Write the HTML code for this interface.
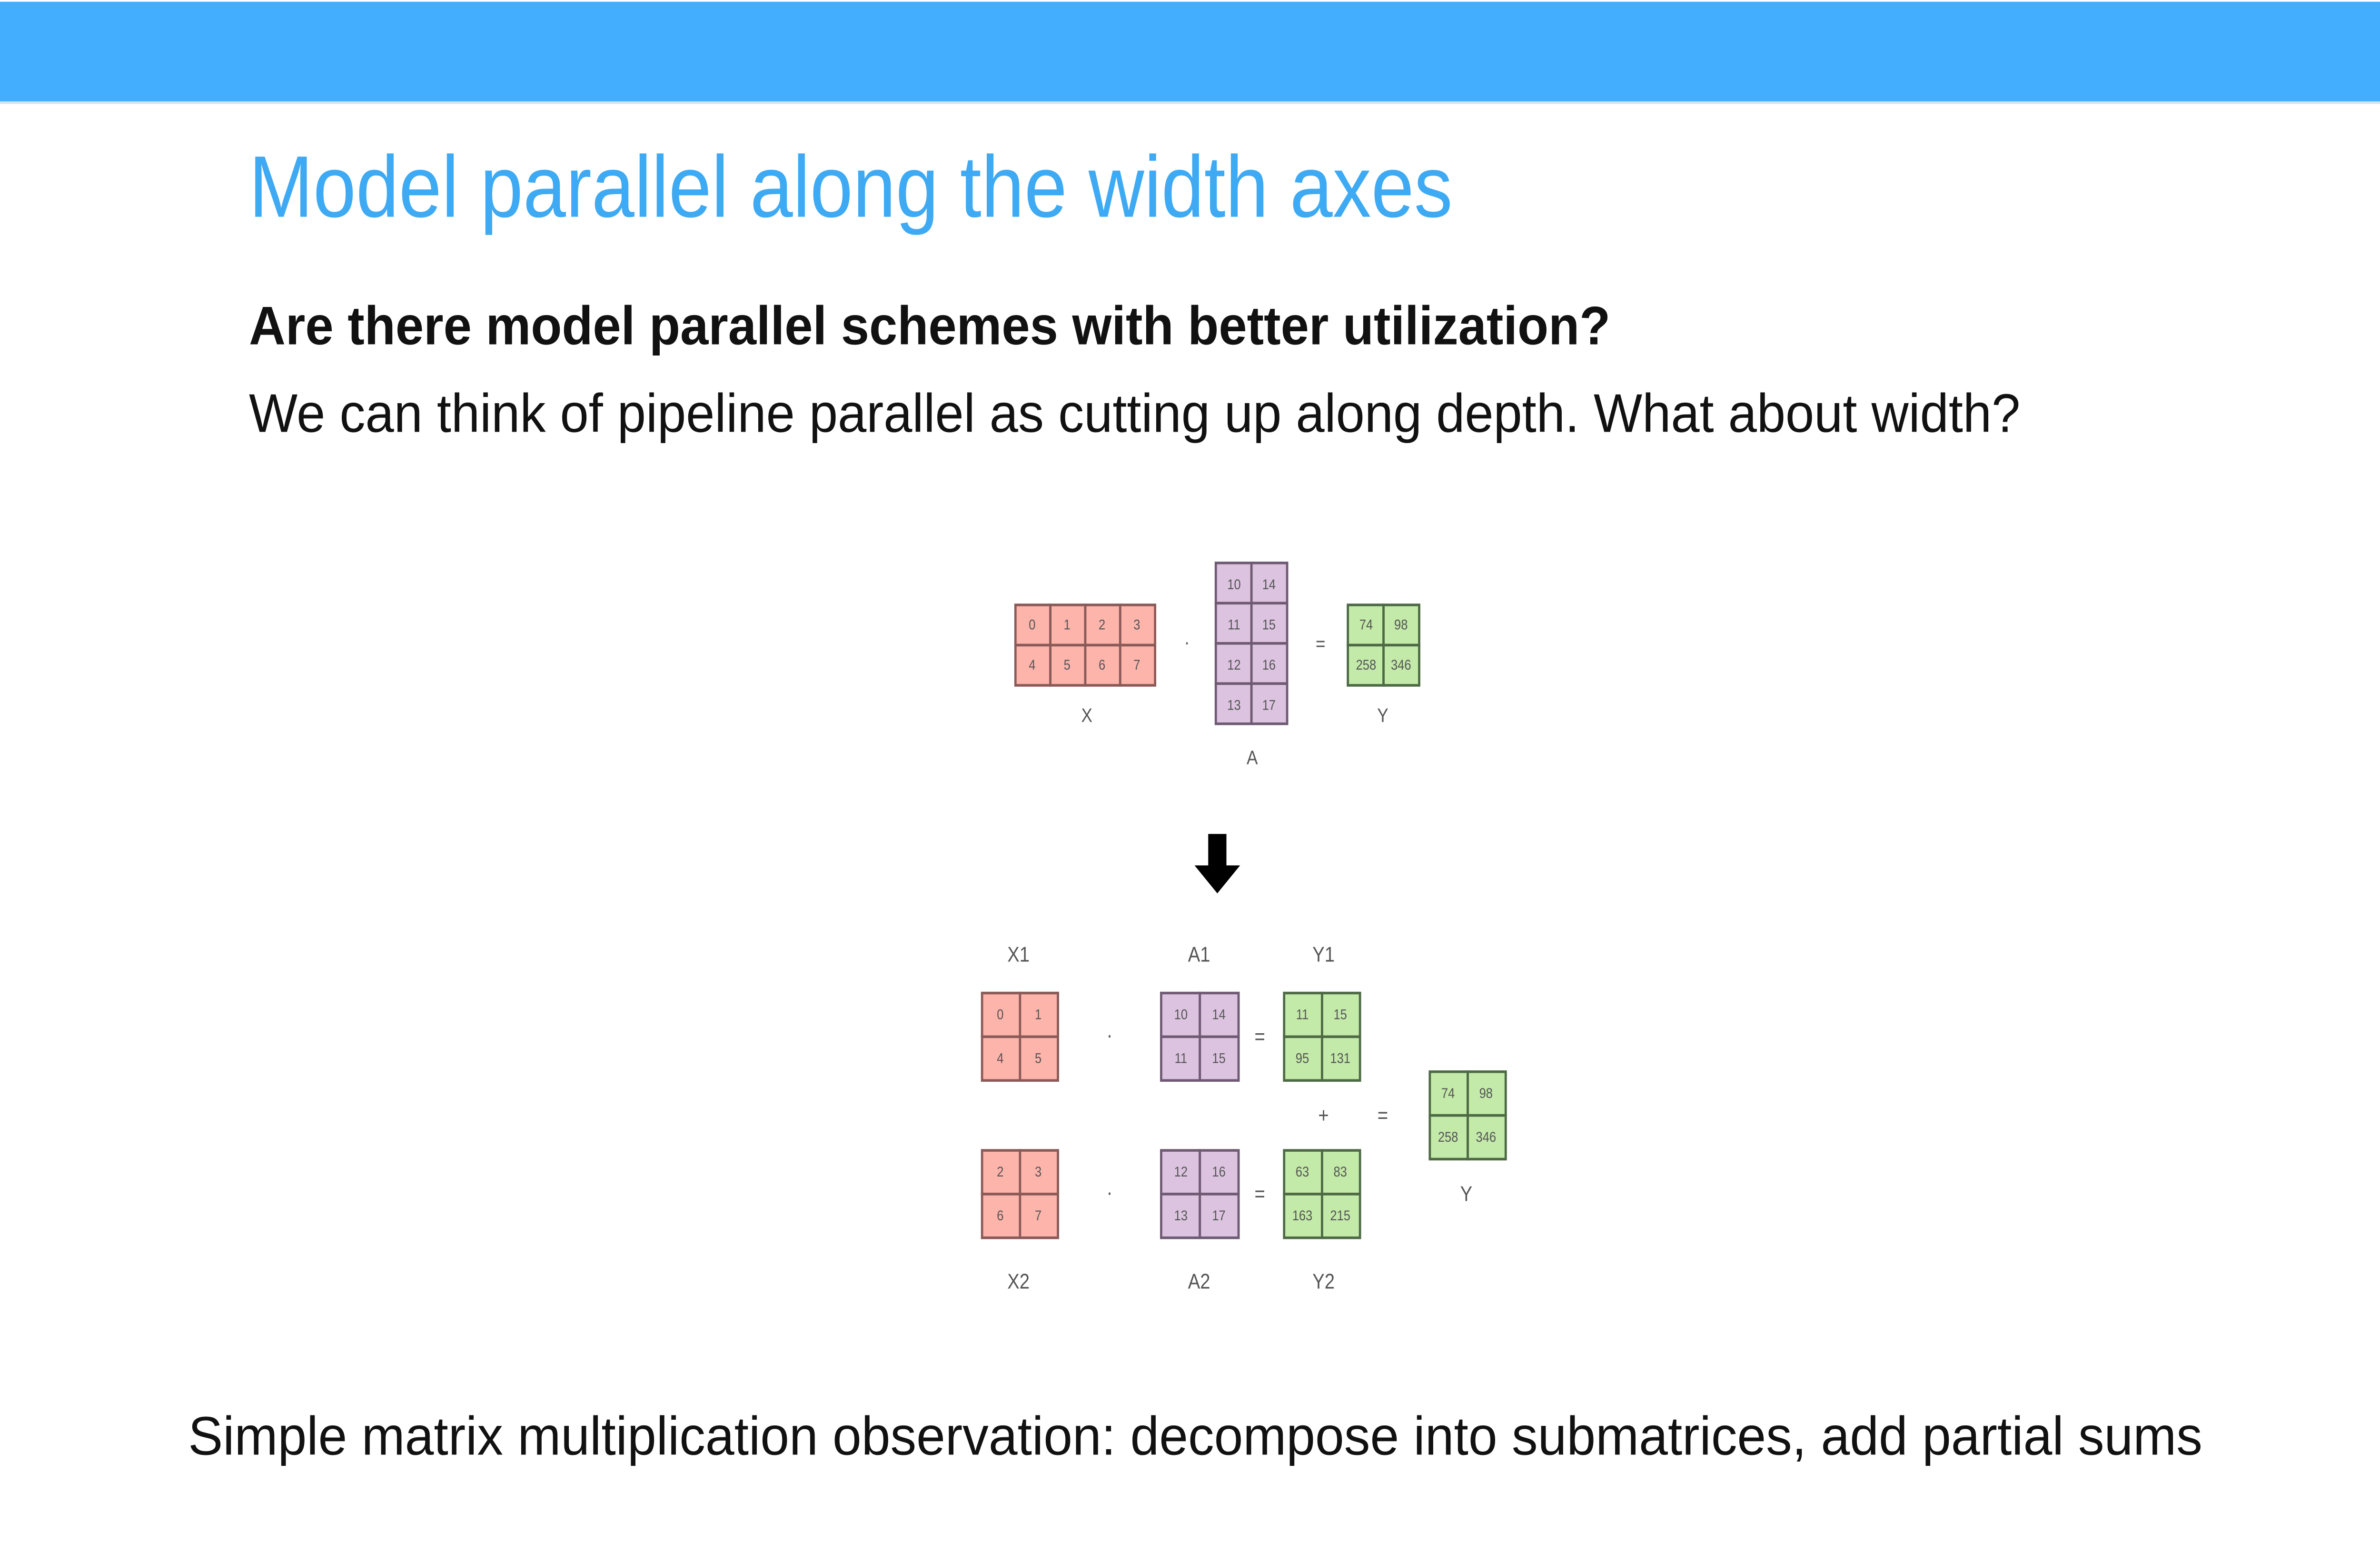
<!DOCTYPE html>
<html><head><meta charset="utf-8"><style>
html,body{margin:0;padding:0;background:#fff;width:100%;height:100%;overflow:hidden;}
svg{display:block;position:absolute;left:0;top:0;width:100vw;height:100vh;}
</style></head><body>
<svg viewBox="0 0 1568 882" preserveAspectRatio="none" xmlns="http://www.w3.org/2000/svg" font-family="'Liberation Sans', sans-serif">
<rect x="0" y="0" width="1568" height="882" fill="#fff"/>
<rect x="0" y="1" width="1568" height="57" fill="#42aefd"/>
<rect x="0" y="58" width="1568" height="1.5" fill="#cfe6f7"/>
<text x="164" y="124" font-size="50" fill="#3eaaf3" textLength="793" lengthAdjust="spacingAndGlyphs">Model parallel along the width axes</text>
<text x="164" y="197" font-size="31" font-weight="bold" fill="#111" textLength="897" lengthAdjust="spacingAndGlyphs">Are there model parallel schemes with better utilization?</text>
<text x="164" y="247" font-size="31" fill="#111" textLength="1167" lengthAdjust="spacingAndGlyphs">We can think of pipeline parallel as cutting up along depth. What about width?</text>
<text x="124" y="832" font-size="31" fill="#111" textLength="1327" lengthAdjust="spacingAndGlyphs">Simple matrix multiplication observation: decompose into submatrices, add partial sums</text>

<g font-size="8" text-anchor="middle" fill="#555">
<g stroke="#8a5a57" stroke-width="1.5" fill="#fdb4ab">
<rect x="669" y="346" width="23" height="23"/><rect x="692" y="346" width="23" height="23"/><rect x="715" y="346" width="23" height="23"/><rect x="738" y="346" width="23" height="23"/>
<rect x="669" y="369" width="23" height="23"/><rect x="692" y="369" width="23" height="23"/><rect x="715" y="369" width="23" height="23"/><rect x="738" y="369" width="23" height="23"/>
</g>
<text x="680" y="360">0</text><text x="703" y="360">1</text><text x="726" y="360">2</text><text x="749" y="360">3</text>
<text x="680" y="383">4</text><text x="703" y="383">5</text><text x="726" y="383">6</text><text x="749" y="383">7</text>
<g stroke="#6f5a73" stroke-width="1.5" fill="#dcc4e0">
<rect x="801" y="322" width="23.5" height="23"/><rect x="824.5" y="322" width="23.5" height="23"/>
<rect x="801" y="345" width="23.5" height="23"/><rect x="824.5" y="345" width="23.5" height="23"/>
<rect x="801" y="368" width="23.5" height="23"/><rect x="824.5" y="368" width="23.5" height="23"/>
<rect x="801" y="391" width="23.5" height="23"/><rect x="824.5" y="391" width="23.5" height="23"/>
</g>
<text x="813" y="337">10</text><text x="836" y="337">14</text>
<text x="813" y="360">11</text><text x="836" y="360">15</text>
<text x="813" y="383">12</text><text x="836" y="383">16</text>
<text x="813" y="406">13</text><text x="836" y="406">17</text>
<g stroke="#4e6a45" stroke-width="1.5" fill="#c3eaa9">
<rect x="888" y="346" width="23.5" height="23"/><rect x="911.5" y="346" width="23.5" height="23"/>
<rect x="888" y="369" width="23.5" height="23"/><rect x="911.5" y="369" width="23.5" height="23"/>
</g>
<text x="900" y="360">74</text><text x="923" y="360">98</text>
<text x="900" y="383">258</text><text x="923" y="383">346</text>
<g font-size="11" fill="#555">
<text x="716" y="413">X</text><text x="825" y="437">A</text><text x="911" y="413">Y</text>
<text x="782" y="371">·</text><text x="870" y="372">=</text>
</g>

<rect x="796" y="477" width="12" height="19" fill="#000"/>
<polygon points="787,495 817,495 802,511" fill="#000"/>

<g font-size="12" fill="#555">
<text x="671" y="550">X1</text><text x="790" y="550">A1</text><text x="872" y="550">Y1</text>
<text x="671" y="737">X2</text><text x="790" y="737">A2</text><text x="872" y="737">Y2</text>
<text x="966" y="687">Y</text>
<text x="731" y="596">·</text><text x="731" y="686">·</text>
<text x="830" y="597">=</text><text x="830" y="687">=</text>
<text x="872" y="642">+</text><text x="911" y="642">=</text>
</g>
<g stroke="#8a5a57" stroke-width="1.5" fill="#fdb4ab">
<rect x="647" y="568" width="25" height="25"/><rect x="672" y="568" width="25" height="25"/>
<rect x="647" y="593" width="25" height="25"/><rect x="672" y="593" width="25" height="25"/>
<rect x="647" y="658" width="25" height="25"/><rect x="672" y="658" width="25" height="25"/>
<rect x="647" y="683" width="25" height="25"/><rect x="672" y="683" width="25" height="25"/>
</g>
<text x="659" y="583">0</text><text x="684" y="583">1</text><text x="659" y="608">4</text><text x="684" y="608">5</text>
<text x="659" y="673">2</text><text x="684" y="673">3</text><text x="659" y="698">6</text><text x="684" y="698">7</text>
<g stroke="#6f5a73" stroke-width="1.5" fill="#dcc4e0">
<rect x="765" y="568" width="25.5" height="25"/><rect x="790.5" y="568" width="25.5" height="25"/>
<rect x="765" y="593" width="25.5" height="25"/><rect x="790.5" y="593" width="25.5" height="25"/>
<rect x="765" y="658" width="25.5" height="25"/><rect x="790.5" y="658" width="25.5" height="25"/>
<rect x="765" y="683" width="25.5" height="25"/><rect x="790.5" y="683" width="25.5" height="25"/>
</g>
<text x="778" y="583">10</text><text x="803" y="583">14</text><text x="778" y="608">11</text><text x="803" y="608">15</text>
<text x="778" y="673">12</text><text x="803" y="673">16</text><text x="778" y="698">13</text><text x="803" y="698">17</text>
<g stroke="#4e6a45" stroke-width="1.5" fill="#c3eaa9">
<rect x="846" y="568" width="25" height="25"/><rect x="871" y="568" width="25" height="25"/>
<rect x="846" y="593" width="25" height="25"/><rect x="871" y="593" width="25" height="25"/>
<rect x="846" y="658" width="25" height="25"/><rect x="871" y="658" width="25" height="25"/>
<rect x="846" y="683" width="25" height="25"/><rect x="871" y="683" width="25" height="25"/>
<rect x="942" y="613" width="25" height="25"/><rect x="967" y="613" width="25" height="25"/>
<rect x="942" y="638" width="25" height="25"/><rect x="967" y="638" width="25" height="25"/>
</g>
<text x="858" y="583">11</text><text x="883" y="583">15</text><text x="858" y="608">95</text><text x="883" y="608">131</text>
<text x="858" y="673">63</text><text x="883" y="673">83</text><text x="858" y="698">163</text><text x="883" y="698">215</text>
<text x="954" y="628">74</text><text x="979" y="628">98</text><text x="954" y="653">258</text><text x="979" y="653">346</text>
</g>
</svg>
</body></html>
